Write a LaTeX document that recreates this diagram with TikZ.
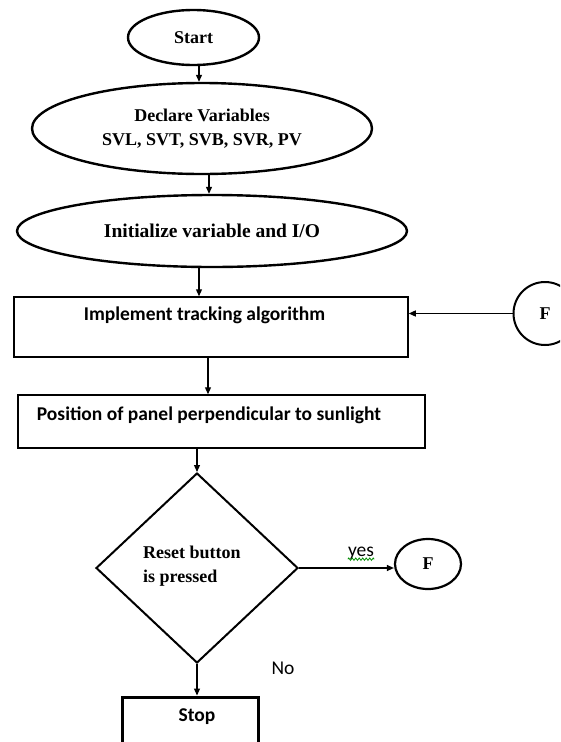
\documentclass[tikz,border=0pt]{standalone}
\usepackage{fontspec}
\setmainfont{Liberation Serif}
\newfontfamily\calib{Carlito}
\usetikzlibrary{shapes.geometric,arrows.meta,decorations.pathmorphing}
\begin{document}
\begin{tikzpicture}[x=1pt,y=-1pt,
  arr/.style={-{Triangle[length=7pt,width=6pt]}, line width=1.2pt},
  oval/.style={ellipse, draw, line width=2.4pt, inner sep=0pt},
  box/.style={draw, line width=1.5pt, inner sep=0pt},
  serif/.style={font=\fontsize{18}{24}\selectfont\bfseries},
  sans/.style={font=\calib\fontsize{19.5}{23}\selectfont\bfseries},
  sansreg/.style={font=\calib\fontsize{19.5}{23}\selectfont},
]
\useasboundingbox (0,0) rectangle (560,742);
\clip (0,0) rectangle (560,742);

\node[oval, minimum width=131pt, minimum height=55pt, serif] (start) at (193.5,37.5) {Start};
\node[oval, minimum width=340pt, minimum height=91pt, serif, align=center] (decl) at (202,128.5) {Declare Variables\\SVL, SVT, SVB, SVR, PV};
\node[oval, minimum width=390pt, minimum height=72pt, font=\fontsize{19.5}{24}\selectfont\bfseries] (init) at (212,231) {Initialize variable and I/O};

\node[box, minimum width=394pt, minimum height=60pt] (r1) at (211,327) {};
\node[sans, inner sep=0pt] (t1) at (204.5,315) {Implement tracking algorithm};
\node[box, minimum width=407pt, minimum height=53pt] (r2) at (221.5,421.5) {};
\node[sans, inner sep=0pt] (t2) at (209,415) {Position of panel perpendicular to sunlight};

\node[circle, draw, line width=2pt, minimum size=63pt, inner sep=0pt, serif] (f1) at (545,313.5) {F};

\node[diamond, draw, line width=2pt, minimum width=202pt, minimum height=190pt, inner sep=0pt] (dia) at (197,568) {};
\node[serif, align=left, anchor=west, inner sep=0pt] (reset) at (143,566) {Reset button\\is pressed};

\node[ellipse, draw, line width=2.2pt, minimum width=66pt, minimum height=50pt, inner sep=0pt, serif] (f2) at (428,564) {F};
\node[sansreg, inner sep=0pt] (yes) at (361,553) {yes};
\draw[green!55!black, line width=0.8pt, decorate, decoration={zigzag, amplitude=1.2pt, segment length=3.5pt}]
  ([yshift=-3pt]yes.base west) -- ([yshift=-3pt]yes.base east);
\node[sansreg, inner sep=0pt] (no) at (283,668) {No};

\node[draw, line width=3pt, minimum width=136pt, minimum height=63pt, inner sep=0pt] (stop) at (190,728.5) {};
\node[sans, inner sep=0pt] (stopt) at (197,717) {Stop};

\coordinate (ax1) at (199,0);
\coordinate (ax2) at (209,0);
\coordinate (ax3) at (199,0);
\coordinate (ax4) at (208,0);

\draw[arr] (start.south -| ax1) -- (decl.north -| ax1);
\draw[arr] (decl.south -| ax2) -- (init.north -| ax2);
\draw[arr] (init.south -| ax3) -- (r1.north -| ax3);
\draw[arr] (r1.south -| ax4) -- (r2.north -| ax4);
\draw[arr] (r2.south -| dia.north) -- (dia.north);
\draw[arr] (f1.west) -- (f1.west -| r1.east);
\draw[arr] (dia.east) -- (dia.east -| f2.west);
\draw[arr] (dia.south) -- (dia.south |- stop.north);
\end{tikzpicture}
\end{document}
